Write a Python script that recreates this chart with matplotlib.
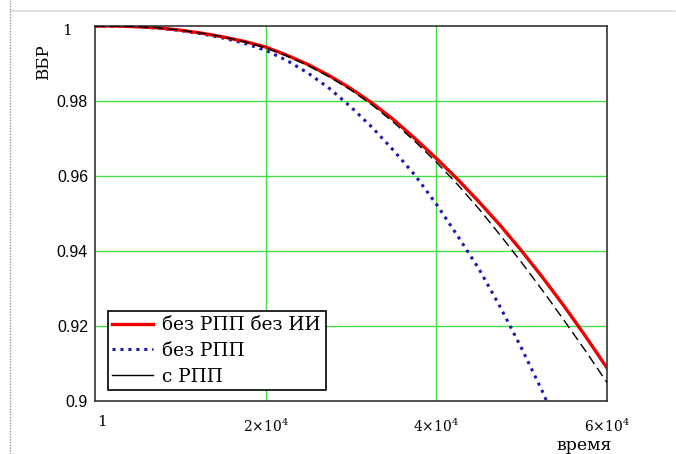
import numpy as np
import matplotlib.pyplot as plt
from matplotlib.lines import Line2D

# время (ч) и ВБР трёх вариантов
t = [1, 2500, 5000, 7500, 10000, 12500, 15000, 17500, 20000, 22500, 25000,
     27500, 30000, 32500, 35000, 37500, 40000, 42500, 45000, 47500, 50000,
     52500, 55000, 57500, 60000]
r_red = [1.0, 1.0, 0.9998, 0.9995, 0.9989, 0.9981, 0.9971, 0.9959, 0.9944,
         0.9922, 0.9897, 0.9867, 0.9833, 0.9794, 0.9750, 0.9700, 0.9647,
         0.9591, 0.9531, 0.9468, 0.9400, 0.9328, 0.9252, 0.9172, 0.9088]
r_blue = [1.0, 1.0, 0.9998, 0.9994, 0.9988, 0.9979, 0.9968, 0.9954, 0.9935,
          0.9908, 0.9874, 0.9833, 0.9784, 0.9729, 0.9668, 0.9602, 0.9525,
          0.9440, 0.9352, 0.9250, 0.9140, 0.9022, 0.8890, 0.8750, 0.8600]
r_black = [1.0, 1.0, 0.9998, 0.9995, 0.9989, 0.9981, 0.9971, 0.9958, 0.9942,
           0.9920, 0.9894, 0.9864, 0.9829, 0.9789, 0.9743, 0.9692, 0.9637,
           0.9577, 0.9512, 0.9442, 0.9369, 0.9293, 0.9214, 0.9133, 0.9049]
labels = ['без РПП без ИИ', 'без РПП', 'с РПП']

x_ticks = [1, 20000, 40000, 60000]
x_tick_labels = ['', r'$2{\times}10^4$', r'$4{\times}10^4$', r'$6{\times}10^4$']
y_ticks = [0.9, 0.92, 0.94, 0.96, 0.98, 1.0]
y_tick_labels = ['0.9', '0.92', '0.94', '0.96', '0.98', '']

plt.rcParams['mathtext.fontset'] = 'dejavuserif'

fig = plt.figure(figsize=(6.76, 4.54), dpi=100)
ax = fig.add_axes([0.1405, 0.1167, 0.7575, 0.826])

grid_c = '#44dd44'
for gx in [20000, 40000]:
    ax.axvline(gx, color=grid_c, lw=1, zorder=1)
for gy in [0.92, 0.94, 0.96, 0.98]:
    ax.axhline(gy, color=grid_c, lw=1, zorder=1)

ax.plot(t, r_black, color='black', lw=1.0, dashes=(7, 3.5), zorder=3)
ax.plot(t, r_blue, color='#1a1aaa', lw=2.2, dashes=(1, 1.6), zorder=2)
ax.plot(t, r_red, color='#ee0000', lw=2.4, zorder=2)

ax.set_xlim(1, 60000)
ax.set_ylim(0.9, 1.0)
ax.set_xticks(x_ticks)
ax.set_xticklabels(x_tick_labels, fontsize=10, family='DejaVu Serif')
ax.set_yticks(y_ticks)
ax.set_yticklabels(y_tick_labels, fontsize=11.5, family='Liberation Sans')
ax.tick_params(length=0, pad=5)
ax.tick_params(axis='x', pad=12)
for s in ax.spines.values():
    s.set_color('#333333')
    s.set_linewidth(1.2)

# подписи "1" на осях стоят у Mathcad отдельно
ax.text(-0.055, 0.987, '1', transform=ax.transAxes, ha='center', va='center',
        fontsize=11, family='DejaVu Serif')
ax.text(0.013, -0.056, '1', transform=ax.transAxes, ha='center', va='center',
        fontsize=11, family='DejaVu Serif')

ax.text(-0.1, 0.905, 'ВБР', transform=ax.transAxes, rotation=90,
        ha='center', va='center', fontsize=12, family='DejaVu Serif')
ax.text(0.955, -0.118, 'время', transform=ax.transAxes, ha='center',
        va='center', fontsize=12.5, family='DejaVu Serif')

handles = [Line2D([], [], color='#ee0000', lw=2.4),
           Line2D([], [], color='#1a1aaa', lw=2.2, dashes=(1, 1.6)),
           Line2D([], [], color='black', lw=1.0)]
leg = ax.legend(handles, labels, loc='lower left', bbox_to_anchor=(0.025, 0.029),
                prop={'family': 'DejaVu Serif', 'size': 13.3},
                fancybox=False, framealpha=1, edgecolor='black',
                borderpad=0.25, handlelength=2.2, labelspacing=0.42,
                handletextpad=0.5, borderaxespad=0)
leg.get_frame().set_linewidth(1.2)

# рамка документа
fig.add_artist(Line2D([0.015, 0.999], [0.976, 0.976], color='#dddddd',
                      lw=1.2, transform=fig.transFigure))
fig.add_artist(Line2D([0.015, 0.015], [0, 1], color='#999999', lw=1,
                      ls=(0, (1, 1)), transform=fig.transFigure))

fig.savefig('out.png', dpi=100)
